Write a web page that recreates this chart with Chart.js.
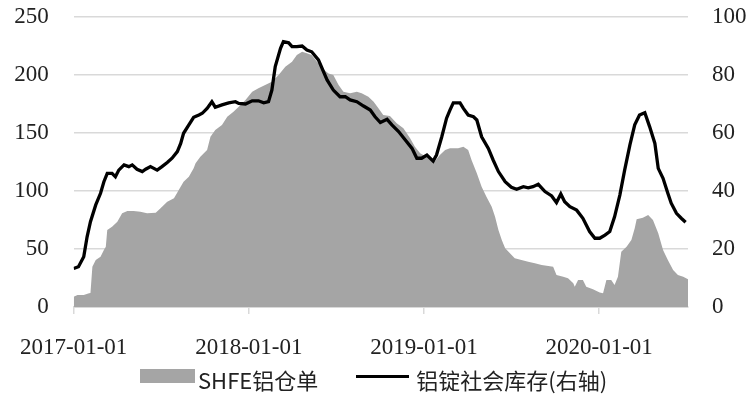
<!DOCTYPE html>
<html lang="zh">
<head>
    <meta charset="UTF-8">
    <title>SHFE铝仓单与铝锭社会库存</title>
    <script src="https://cdn.jsdelivr.net/npm/chart.js"></script>
    <style>
        html, body { margin: 0; padding: 0; background: #ffffff; overflow: hidden; }
        #box { position: relative; width: 755px; height: 399px; }
        /* 图例用 HTML 写, 方便控制两项之间的间距 */
        #legend {
            position: absolute;
            left: 140px;
            top: 362px;
            display: flex;
            align-items: center;
            font-family: "Noto Sans CJK SC", sans-serif;
            font-size: 22px;
            color: #222;
            white-space: nowrap;
        }
        #legend .item { display: flex; align-items: center; height: 28px; }
        #legend .item + .item { margin-left: 38px; }
        #legend .text { position: relative; top: 3px; }
    </style>
</head>
<body>
    <div id="box">
        <canvas id="stockChart" width="755" height="399"></canvas>
        <div id="legend"></div>
    </div>
    <script>
        // x 轴: 距 2017-01-01 的天数
        const tickDays = [0, 365, 730, 1095];
        const tickLabels = ['2017-01-01', '2018-01-01', '2019-01-01', '2020-01-01'];

        // SHFE铝仓单 (左轴)
        const shfeDays = [0, 8, 21, 32, 35, 39, 46, 56, 63, 67, 70, 80, 91, 101, 112, 125, 139, 153, 171, 181,
            195, 209, 219, 229, 240, 250, 254, 264, 278, 285, 295, 309, 320, 333, 344, 358, 372, 385, 399, 413,
            427, 441, 455, 465, 476, 486, 496, 507, 517, 531, 541, 552, 562, 576, 590, 600, 614, 625, 635, 645,
            659, 673, 687, 701, 711, 722, 732, 743, 753, 763, 774, 784, 801, 812, 822, 829, 840, 850, 860, 871,
            878, 885, 892, 899, 909, 919, 933, 947, 961, 975, 989, 999, 1006, 1020, 1030, 1041, 1044, 1051, 1061, 1068,
            1082, 1096, 1103, 1110, 1120, 1127, 1134, 1141, 1152, 1162, 1169, 1173, 1186, 1197, 1207, 1218, 1228, 1238, 1249, 1259,
            1270, 1280];
        const shfeValues = [8.9, 10.3, 10.3, 11.8, 12, 34.7, 40.5, 43.4, 49.1, 52, 66.4, 69.2, 73.5, 80.8, 82.8, 82.8, 82.2, 80.8, 81.3, 85.1,
            90.8, 93.7, 100.9, 108, 112.3, 119.6, 123.9, 129.6, 135.3, 146.8, 152.6, 156.9, 164, 168.4, 172.7, 178.4, 185.6, 188.5, 191.4, 194.2,
            200, 207.2, 211.5, 217.2, 220.1, 218.7, 217.2, 211.5, 206, 201.4, 200, 191.4, 185.6, 184.2, 185.6, 184.2, 181.3, 177, 171.3, 165.5,
            164.7, 158.4, 154, 145.4, 138.2, 132.5, 130.2, 128.7, 125.9, 131, 135.3, 136.8, 136.8, 138.2, 135.3, 126.7, 115.3, 103.7, 95.1, 86.5,
            77.8, 66.4, 57.8, 50.6, 46.3, 42, 40.5, 39.1, 37.7, 36.2, 35.3, 34.7, 27.6, 26.1, 24.7, 20.4, 17.5, 23.3, 23.3, 17.5,
            15.2, 12.4, 11.8, 23.3, 23.3, 19, 26.1, 47.7, 52, 57.8, 67.8, 75.6, 77, 79.3, 75, 63.5, 49.1, 40.5, 31.9, 27.6,
            26.1, 23.9];

        // 铝锭社会库存 (右轴)
        const socialDays = [0, 10, 21, 28, 35, 46, 56, 63, 70, 80, 87, 94, 105, 115, 122, 132, 143, 150, 160, 174,
            184, 195, 205, 216, 223, 229, 240, 250, 261, 268, 278, 288, 295, 309, 323, 337, 344, 358, 372, 385,
            396, 406, 413, 420, 431, 437, 448, 455, 465, 476, 486, 496, 510, 528, 541, 555, 566, 576, 590, 604,
            618, 628, 639, 653, 663, 677, 691, 705, 715, 725, 736, 749, 756, 767, 777, 784, 791, 805, 812, 822,
            833, 840, 850, 864, 874, 885, 899, 912, 923, 937, 947, 957, 968, 982, 996, 1006, 1015, 1023, 1034, 1048,
            1061, 1075, 1086, 1096, 1107, 1117, 1127, 1138, 1148, 1159, 1169, 1179, 1190, 1200, 1211, 1218, 1228, 1238, 1245, 1256,
            1266, 1275];
        const socialValues = [13.3, 13.9, 17.3, 24.2, 29.4, 35.2, 39.2, 43.2, 46.1, 46.1, 44.9, 47.2, 49, 48.4, 49, 47.5, 46.7, 47.5, 48.4, 47.2,
            48.4, 49.8, 51.3, 53.6, 56.4, 59.9, 62.8, 65.4, 66.2, 66.8, 68.5, 70.8, 68.9, 69.7, 70.4, 70.8, 70.2, 70, 71.1, 71.1,
            70.4, 70.8, 74.8, 82.9, 89.2, 91.5, 91.1, 89.8, 89.8, 90, 88.6, 88, 85.2, 78.3, 74.8, 72.5, 72.5, 71.4, 70.8, 69.3,
            67.9, 65.6, 63.6, 64.7, 62.8, 60.5, 57.6, 54.7, 51.3, 51.3, 52.4, 50.3, 52.4, 58.7, 65.1, 67.9, 70.4, 70.4, 68.5, 66.2,
            65.6, 64.5, 58.7, 54.7, 50.7, 46.7, 43.2, 41.3, 40.6, 41.5, 41.1, 41.5, 42.3, 39.8, 38.3, 36, 39, 36.3, 34.6, 33.4,
            30.6, 26, 23.7, 23.7, 24.8, 26, 31.1, 38.6, 47.2, 55.9, 62.8, 66.2, 67, 62.2, 56.4, 47.8, 44.4, 39.2, 35.8, 32.3,
            30.6, 29.2];

        const tickFont = { family: '"Liberation Serif", serif', size: 23 };

        const ctx = document.getElementById('stockChart').getContext('2d');
        const stockChart = new Chart(ctx, {
            type: 'line',
            data: {
                datasets: [{
                    label: 'SHFE铝仓单',
                    data: shfeDays.map((d, i) => ({ x: d, y: shfeValues[i] })),
                    yAxisID: 'y',
                    backgroundColor: '#a5a5a5',
                    borderColor: '#a5a5a5',
                    borderWidth: 0,
                    pointRadius: 0,
                    fill: 'origin',
                    tension: 0,
                    order: 2
                }, {
                    label: '铝锭社会库存(右轴)',
                    data: socialDays.map((d, i) => ({ x: d, y: socialValues[i] })),
                    yAxisID: 'y1',
                    backgroundColor: '#000000',
                    borderColor: '#000000',
                    borderWidth: 3.3,
                    pointRadius: 0,
                    fill: false,
                    tension: 0,
                    order: 1
                }]
            },
            options: {
                responsive: false,
                animation: false,
                layout: { padding: { top: 17, left: 8, right: 0, bottom: 0 } },
                plugins: {
                    tooltip: { enabled: false },
                    legend: { display: false }
                },
                scales: {
                    x: {
                        type: 'linear',
                        min: 0,
                        max: 1280,
                        afterBuildTicks: (axis) => { axis.ticks = tickDays.map(v => ({ value: v })); },
                        afterFit: (axis) => { axis.height = 92; },
                        ticks: {
                            autoSkip: false,
                            maxRotation: 0,
                            padding: 20,
                            color: '#222',
                            font: tickFont,
                            callback: (v) => tickLabels[tickDays.indexOf(v)]
                        },
                        grid: { drawOnChartArea: false, drawTicks: true, tickLength: 7, color: '#d9d9d9', lineWidth: 1.5 },
                        border: { display: true, color: '#d9d9d9', width: 2 }
                    },
                    y: {
                        position: 'left',
                        min: 0,
                        max: 250,
                        afterFit: (axis) => { axis.width = 65; },
                        ticks: { stepSize: 50, padding: 0, color: '#222', font: tickFont },
                        grid: { color: '#d9d9d9', lineWidth: 1.5, drawTicks: true, tickLength: 25, tickColor: 'rgba(0,0,0,0)' },
                        border: { display: false }
                    },
                    y1: {
                        position: 'right',
                        min: 0,
                        max: 100,
                        afterFit: (axis) => { axis.width = 67; },
                        ticks: { stepSize: 20, padding: 0, color: '#222', font: tickFont },
                        grid: { drawOnChartArea: false, drawTicks: true, tickLength: 24, tickColor: 'rgba(0,0,0,0)' },
                        border: { display: false }
                    }
                }
            }
        });

        // HTML 图例, 内容取自图表的数据集
        const legendEl = document.getElementById('legend');
        stockChart.data.datasets.forEach((ds) => {
            const item = document.createElement('div');
            item.className = 'item';
            const mark = document.createElement('span');
            if (ds.fill) {
                mark.style.cssText = 'display:inline-block;width:55px;height:14px;margin-right:3px;background:' + ds.backgroundColor;
            } else {
                mark.style.cssText = 'display:inline-block;width:53px;height:3px;margin-right:7px;background:' + ds.borderColor;
            }
            const text = document.createElement('span');
            text.className = 'text';
            text.textContent = ds.label;
            item.appendChild(mark);
            item.appendChild(text);
            legendEl.appendChild(item);
        });
    </script>
</body>
</html>
